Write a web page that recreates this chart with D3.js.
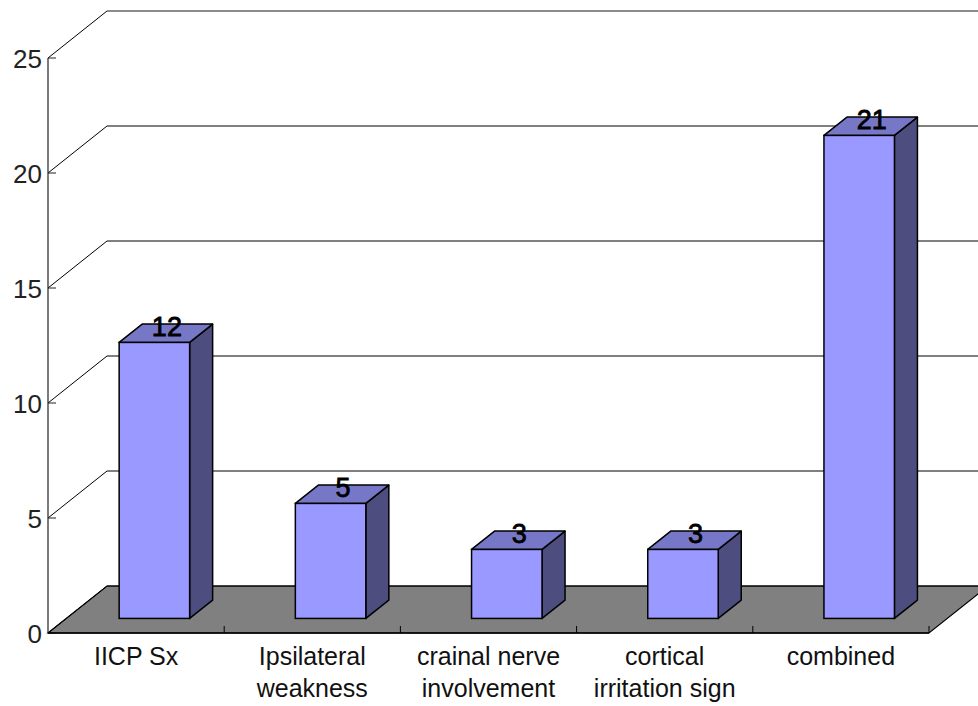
<!DOCTYPE html>
<html>
<head>
<meta charset="utf-8">
<script src="https://cdn.jsdelivr.net/npm/d3@7/dist/d3.min.js"></script>
<style>
  html, body { margin: 0; padding: 0; background: #fff; }
  svg { display: block; }
  text { font-family: "Liberation Sans", Arial, sans-serif; }
</style>
</head>
<body>
<svg id="chart" width="978" height="706"></svg>
<script>
// Chart data
const categories = [
  ["IICP Sx"],
  ["Ipsilateral", "weakness"],
  ["crainal nerve", "involvement"],
  ["cortical", "irritation sign"],
  ["combined"]
];
const values = [12, 5, 3, 3, 21];
const yTicks = [0, 5, 10, 15, 20, 25];

const svg = d3.select("#chart");

// Front plane of the 3D box
const plotLeft = 48, plotRight = 929;
const y = d3.scaleLinear().domain([0, 25]).range([633, 58]);
const keys = categories.map(c => c.join(" "));
const x = d3.scaleBand().domain(keys).range([plotLeft, plotRight])
  .paddingInner(0.6).paddingOuter(0.3);
const step = (plotRight - plotLeft) / keys.length;

// Full depth offset of the floor / walls
const depth = { dx: 59, dy: -47 };
// Bars sit in the middle of the depth
const f0 = 0.31, f1 = 0.70;
const off = f => [depth.dx * f, depth.dy * f];

// Floor
const y0 = y(0);
svg.append("polygon")
  .attr("points", [
    [plotLeft, y0], [plotRight, y0],
    [plotRight + depth.dx, y0 + depth.dy], [plotLeft + depth.dx, y0 + depth.dy]
  ].map(p => p.join(",")).join(" "))
  .attr("fill", "#808080")
  .attr("stroke", "#000")
  .attr("stroke-width", 1.2);

// Back wall gridlines and left side wall diagonals
const grid = svg.append("g");
yTicks.forEach(t => {
  const yy = y(t);
  grid.append("line")
    .attr("x1", plotLeft + depth.dx).attr("x2", plotRight + depth.dx)
    .attr("y1", yy + depth.dy).attr("y2", yy + depth.dy)
    .attr("stroke", t === 25 ? "#666" : "#000").attr("stroke-width", t === 25 ? 1.5 : 1);
  grid.append("line")
    .attr("x1", plotLeft).attr("y1", yy)
    .attr("x2", plotLeft + depth.dx).attr("y2", yy + depth.dy)
    .attr("stroke", "#000").attr("stroke-width", 1);
});

// Vertical axis with ticks
const yAxis = svg.append("g");
yAxis.append("line")
  .attr("x1", plotLeft).attr("x2", plotLeft)
  .attr("y1", y(25)).attr("y2", y(0))
  .attr("stroke", "#222").attr("stroke-width", 1.2);
yTicks.forEach(t => {
  yAxis.append("line")
    .attr("x1", plotLeft).attr("x2", plotLeft + 8)
    .attr("y1", y(t)).attr("y2", y(t))
    .attr("stroke", "#222").attr("stroke-width", 1);
  yAxis.append("text")
    .attr("x", plotLeft - 6).attr("y", y(t) + 10)
    .attr("text-anchor", "end")
    .attr("font-size", 26)
    .attr("fill", "#222")
    .text(t);
});

// Category ticks along the front floor edge
for (let i = 1; i <= keys.length; i++) {
  const tx = plotLeft + step * i;
  svg.append("line")
    .attr("x1", tx).attr("x2", tx)
    .attr("y1", y0 - 7).attr("y2", y0)
    .attr("stroke", "#000").attr("stroke-width", 1);
}
// Front floor edge
svg.append("line")
  .attr("x1", plotLeft).attr("x2", plotRight)
  .attr("y1", y0).attr("y2", y0)
  .attr("stroke", "#000").attr("stroke-width", 1.5);

// Bars
const [fx, fy] = off(f0);
const [bx, by] = off(f1);
const ddx = bx - fx, ddy = by - fy;
const bars = svg.append("g");
keys.forEach((k, i) => {
  const v = values[i];
  const xl = x(k) + fx, xr = x(k) + x.bandwidth() + fx;
  const yb = y(0) + fy, yt = y(v) + fy;
  const pts = a => a.map(p => p.join(",")).join(" ");
  // side face
  bars.append("polygon")
    .attr("points", pts([[xr, yt], [xr + ddx, yt + ddy], [xr + ddx, yb + ddy], [xr, yb]]))
    .attr("fill", "#4d4d80").attr("stroke", "#000").attr("stroke-width", 1.5)
    .attr("stroke-linejoin", "round");
  // top face
  bars.append("polygon")
    .attr("points", pts([[xl, yt], [xr, yt], [xr + ddx, yt + ddy], [xl + ddx, yt + ddy]]))
    .attr("fill", "#7777c8").attr("stroke", "#000").attr("stroke-width", 1.5)
    .attr("stroke-linejoin", "round");
  // front face
  bars.append("rect")
    .attr("x", xl).attr("y", yt)
    .attr("width", xr - xl).attr("height", yb - yt)
    .attr("fill", "#9999ff").attr("stroke", "#000").attr("stroke-width", 1.5);
  // value label
  bars.append("text")
    .attr("x", (xl + xr) / 2 + ddx / 2 + 1)
    .attr("y", yt + ddy / 2 + 3)
    .attr("text-anchor", "middle")
    .attr("font-size", 27)
    .attr("fill", "#000")
    .attr("stroke", "#000").attr("stroke-width", 0.8)
    .text(v);
});

// Category labels
const labels = svg.append("g");
keys.forEach((k, i) => {
  const cx = x(k) + x.bandwidth() / 2;
  const t = labels.append("text")
    .attr("text-anchor", "middle")
    .attr("font-size", 25)
    .attr("fill", "#111");
  categories[i].forEach((line, j) => {
    t.append("tspan").attr("x", cx).attr("y", 665 + j * 32).text(line);
  });
});
</script>
</body>
</html>
